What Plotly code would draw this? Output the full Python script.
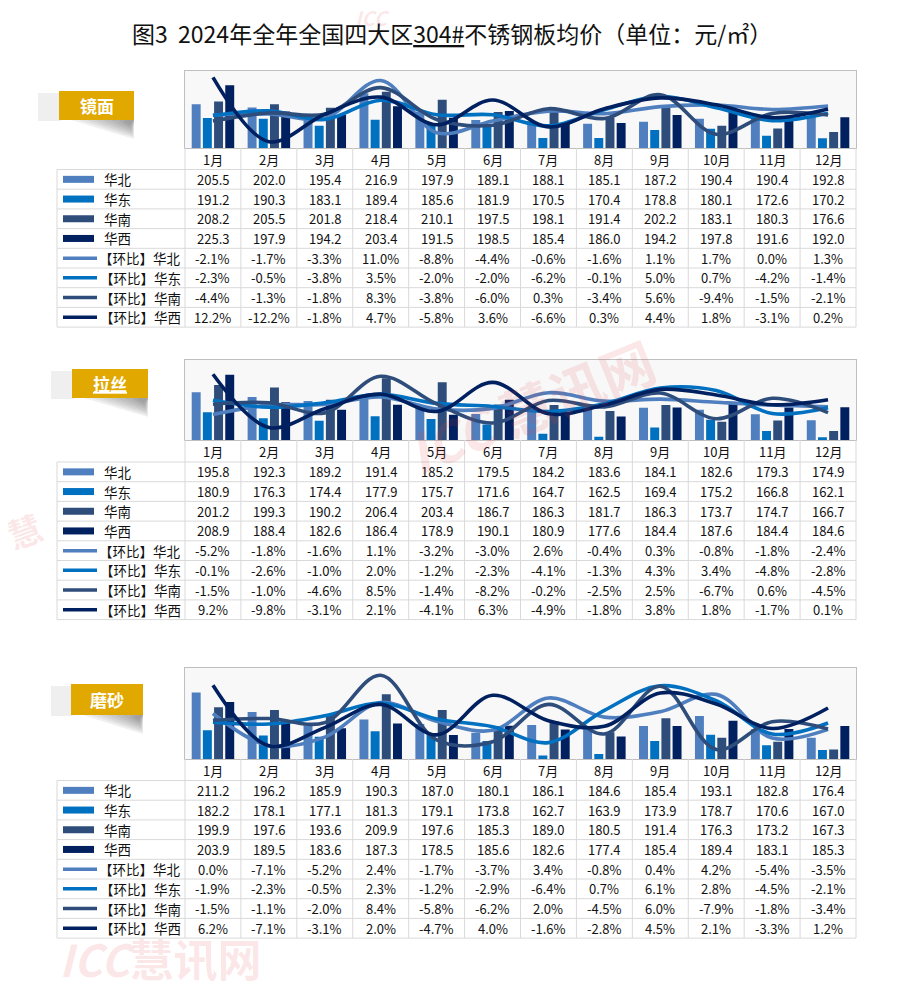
import plotly.graph_objects as go

W, H = 892, 974   # page places the plot 8px in from top/left
OFF = 8

months = [f"{i}月" for i in range(1, 13)]
regions = ["华北", "华东", "华南", "华西"]
colors = ["#4F7FBE", "#0070C0", "#2E4D7A", "#002060"]

# ---- 镜面 ----
jm_hb = [205.5, 202.0, 195.4, 216.9, 197.9, 189.1, 188.1, 185.1, 187.2, 190.4, 190.4, 192.8]
jm_hd = [191.2, 190.3, 183.1, 189.4, 185.6, 181.9, 170.5, 170.4, 178.8, 180.1, 172.6, 170.2]
jm_hn = [208.2, 205.5, 201.8, 218.4, 210.1, 197.5, 198.1, 191.4, 202.2, 183.1, 180.3, 176.6]
jm_hx = [225.3, 197.9, 194.2, 203.4, 191.5, 198.5, 185.4, 186.0, 194.2, 197.8, 191.6, 192.0]
jm_mom_hb = [-2.1, -1.7, -3.3, 11.0, -8.8, -4.4, -0.6, -1.6, 1.1, 1.7, 0.0, 1.3]
jm_mom_hd = [-2.3, -0.5, -3.8, 3.5, -2.0, -2.0, -6.2, -0.1, 5.0, 0.7, -4.2, -1.4]
jm_mom_hn = [-4.4, -1.3, -1.8, 8.3, -3.8, -6.0, 0.3, -3.4, 5.6, -9.4, -1.5, -2.1]
jm_mom_hx = [12.2, -12.2, -1.8, 4.7, -5.8, 3.6, -6.6, 0.3, 4.4, 1.8, -3.1, 0.2]

# ---- 拉丝 ----
ls_hb = [195.8, 192.3, 189.2, 191.4, 185.2, 179.5, 184.2, 183.6, 184.1, 182.6, 179.3, 174.9]
ls_hd = [180.9, 176.3, 174.4, 177.9, 175.7, 171.6, 164.7, 162.5, 169.4, 175.2, 166.8, 162.1]
ls_hn = [201.2, 199.3, 190.2, 206.4, 203.4, 186.7, 186.3, 181.7, 186.3, 173.7, 174.7, 166.7]
ls_hx = [208.9, 188.4, 182.6, 186.4, 178.9, 190.1, 180.9, 177.6, 184.4, 187.6, 184.4, 184.6]
ls_mom_hb = [-5.2, -1.8, -1.6, 1.1, -3.2, -3.0, 2.6, -0.4, 0.3, -0.8, -1.8, -2.4]
ls_mom_hd = [-0.1, -2.6, -1.0, 2.0, -1.2, -2.3, -4.1, -1.3, 4.3, 3.4, -4.8, -2.8]
ls_mom_hn = [-1.5, -1.0, -4.6, 8.5, -1.4, -8.2, -0.2, -2.5, 2.5, -6.7, 0.6, -4.5]
ls_mom_hx = [9.2, -9.8, -3.1, 2.1, -4.1, 6.3, -4.9, -1.8, 3.8, 1.8, -1.7, 0.1]

# ---- 磨砂 ----
ms_hb = [211.2, 196.2, 185.9, 190.3, 187.0, 180.1, 186.1, 184.6, 185.4, 193.1, 182.8, 176.4]
ms_hd = [182.2, 178.1, 177.1, 181.3, 179.1, 173.8, 162.7, 163.9, 173.9, 178.7, 170.6, 167.0]
ms_hn = [199.9, 197.6, 193.6, 209.9, 197.6, 185.3, 189.0, 180.5, 191.4, 176.3, 173.2, 167.3]
ms_hx = [203.9, 189.5, 183.6, 187.3, 178.5, 185.6, 182.6, 177.4, 185.4, 189.4, 183.1, 185.3]
ms_mom_hb = [0.0, -7.1, -5.2, 2.4, -1.7, -3.7, 3.4, -0.8, 0.4, 4.2, -5.4, -3.5]
ms_mom_hd = [-1.9, -2.3, -0.5, 2.3, -1.2, -2.9, -6.4, 0.7, 6.1, 2.8, -4.5, -2.1]
ms_mom_hn = [-1.5, -1.1, -2.0, 8.4, -5.8, -6.2, 2.0, -4.5, 6.0, -7.9, -1.8, -3.4]
ms_mom_hx = [6.2, -7.1, -3.1, 2.0, -4.7, 4.0, -1.6, -2.8, 4.5, 2.1, -3.3, 1.2]

panel_names = ["镜面", "拉丝", "磨砂"]
panel_prices = [[jm_hb, jm_hd, jm_hn, jm_hx], [ls_hb, ls_hd, ls_hn, ls_hx], [ms_hb, ms_hd, ms_hn, ms_hx]]
panel_moms = [[jm_mom_hb, jm_mom_hd, jm_mom_hn, jm_mom_hx],
              [ls_mom_hb, ls_mom_hd, ls_mom_hn, ls_mom_hx],
              [ms_mom_hb, ms_mom_hd, ms_mom_hn, ms_mom_hx]]
bar_ranges = [[160, 240], [160, 220], [160, 230]]
mom_ranges = [[-14.6, 14.6], [-14.3, 14.3], [-10, 10]]

# geometry (pixels, page coordinates)
geo = [
    dict(top=71, bot=148, ttop=169.5, badge=(59, 91, 134, 120), gray=38, under=False),
    dict(top=360, bot=440, ttop=462, badge=(72, 369, 148, 398), gray=51, under=True),
    dict(top=668, bot=759, ttop=780.5, badge=(71, 684, 143, 715), gray=51, under=False),
]
X0, X1, LX = 185, 856, 57
CW = (X1 - X0) / 12
RH = 19.7
GRID = "#D9D9D9"
FONT = "Noto Sans CJK SC"


def fx(x):
    return (x - OFF) / W


def fy(y):
    return 1 - (y - OFF) / H


def text(x, y, t, size=12.5, color="#111", xanchor="center", **kw):
    return dict(x=fx(x), y=fy(y), xref="paper", yref="paper", text=t, showarrow=False,
                xanchor=xanchor, yanchor="middle", font=dict(size=size, color=color, family=FONT), **kw)


fig = go.Figure()
shapes = []
ann = []
layout_axes = {}

for p in range(3):
    g = geo[p]
    xa = "x" if p == 0 else f"x{p + 1}"
    ya = "y" if p == 0 else f"y{2 * p + 1}"
    ya2 = f"y{2 * p + 2}"
    xkey = "xaxis" if p == 0 else f"xaxis{p + 1}"
    ykey = "yaxis" if p == 0 else f"yaxis{2 * p + 1}"
    y2key = f"yaxis{2 * p + 2}"
    xs = list(range(12))
    for i in range(4):
        fig.add_trace(go.Bar(x=xs, y=panel_prices[p][i], marker=dict(color=colors[i], line=dict(width=0)),
                             xaxis=xa, yaxis=ya, showlegend=False, hoverinfo="skip"))
    for i in range(4):
        fig.add_trace(go.Scatter(x=xs, y=panel_moms[p][i], mode="lines",
                                 line=dict(shape="spline", smoothing=1.0, width=3.6, color=colors[i]),
                                 xaxis=xa, yaxis=ya2, showlegend=False, hoverinfo="skip"))
    layout_axes[xkey] = dict(domain=[fx(X0), fx(X1)], range=[-0.5, 11.5], anchor=ya,
                             showticklabels=False, showgrid=False, zeroline=False,
                             showline=True, mirror=True, linecolor="#BFBFBF", linewidth=1, ticks="")
    layout_axes[ykey] = dict(domain=[fy(g["bot"]), fy(g["top"])], range=bar_ranges[p], anchor=xa,
                             showticklabels=False, showgrid=False, zeroline=False,
                             showline=True, mirror=True, linecolor="#BFBFBF", linewidth=1, ticks="")
    layout_axes[y2key] = dict(overlaying=ya, range=mom_ranges[p], visible=False, anchor=xa)

    # month row + table grid
    for k in range(13):
        x = X0 + k * CW
        shapes.append(dict(type="line", xref="paper", yref="paper", x0=fx(x), x1=fx(x),
                           y0=fy(g["bot"]), y1=fy(g["ttop"] + 8 * RH), line=dict(color=GRID, width=1)))
    for r in range(9):
        y = g["ttop"] + r * RH
        shapes.append(dict(type="line", xref="paper", yref="paper", x0=fx(LX), x1=fx(X1),
                           y0=fy(y), y1=fy(y), line=dict(color=GRID, width=1)))
    shapes.append(dict(type="line", xref="paper", yref="paper", x0=fx(LX), x1=fx(LX),
                       y0=fy(g["ttop"]), y1=fy(g["ttop"] + 8 * RH), line=dict(color=GRID, width=1)))
    for k in range(12):
        ann.append(text(X0 + (k + 0.5) * CW, (g["bot"] + g["ttop"]) / 2 + 0.5, months[k], size=13))
    for r in range(8):
        yc = g["ttop"] + (r + 0.5) * RH
        i = r % 4
        if r < 4:
            shapes.append(dict(type="rect", xref="paper", yref="paper", x0=fx(63), x1=fx(94),
                               y0=fy(yc - 3.5), y1=fy(yc + 3.5), fillcolor=colors[i], line=dict(width=0)))
            ann.append(text(102, yc, regions[i], size=13.5, xanchor="left"))
            vals = [f"{v:.1f}" for v in panel_prices[p][i]]
        else:
            shapes.append(dict(type="line", xref="paper", yref="paper", x0=fx(63), x1=fx(97),
                               y0=fy(yc), y1=fy(yc), line=dict(color=colors[i], width=3.5)))
            ann.append(text(183, yc, "【环比】" + regions[i], size=13.5, xanchor="right"))
            vals = [f"{v:.1f}%" for v in panel_moms[p][i]]
        for k in range(12):
            ann.append(text(X0 + (k + 0.5) * CW, yc, vals[k], size=13))

    # badge with soft shadow
    bx0, by0, bx1, by1 = g["badge"]
    for j in range(8):
        d = 2 * j
        shapes.append(dict(type="path", xref="paper", yref="paper",
                           path=(f"M {fx(bx0 + 12 + 4 * d)},{fy(by1)} L {fx(bx1)},{fy(by1)} "
                                 f"L {fx(bx1 - d * 0.3)},{fy(by1 + 19 - d)} Q {fx(bx1 - 14)},{fy(by1 + 15 - d)} "
                                 f"{fx(bx0 + 12 + 4 * d)},{fy(by1)} Z"),
                           fillcolor="#444", opacity=0.08, line=dict(width=0)))
    shapes.append(dict(type="rect", xref="paper", yref="paper", x0=fx(g["gray"]), x1=fx(bx0 + 2),
                       y0=fy(by1 + 1), y1=fy(by0 + 2), fillcolor="#EFEFEF", line=dict(width=0)))
    shapes.append(dict(type="rect", xref="paper", yref="paper", x0=fx(bx0), x1=fx(bx1),
                       y0=fy(by1), y1=fy(by0), fillcolor="#E1A800", line=dict(width=0)))
    label = panel_names[p]
    if g["under"]:
        label = f"<span style='text-decoration:underline'>{label}</span>"
    ann.append(text((bx0 + bx1) / 2, (by0 + by1) / 2, f"<b>{label}</b>", size=17, color="white"))

# watermarks (kept inside the canvas, unrotated small ones)
wm = "rgba(225,70,70,0.13)"
for (x, y, s, t, a) in [(530, 405, 54, "<b><i>ICC</i></b> <b>慧讯网</b>", -22),
                        (160, 958, 44, "<b><i>ICC</i></b><b>慧讯网</b>", 0),
                        (372, 18, 20, "<b><i>ICC</i></b>", 0),
                        (24, 530, 34, "<b>慧</b>", -20)]:
    ann.append(text(x, y, t, size=s, color=wm, textangle=a))

# title
ann.append(text(452, 33,
                "图3  2024年全年全国四大区<span style='text-decoration:underline'>304#</span>不锈钢板均价（单位：元/㎡）",
                size=23, color="#111"))

fig.update_layout(width=W, height=H, margin=dict(l=0, r=0, t=0, b=0),
                  paper_bgcolor="white", plot_bgcolor="#F8F8F8",
                  barmode="group", bargap=0.2, bargroupgap=0.2,
                  shapes=shapes, annotations=ann, showlegend=False, **layout_axes)
fig.write_html("out.html")
